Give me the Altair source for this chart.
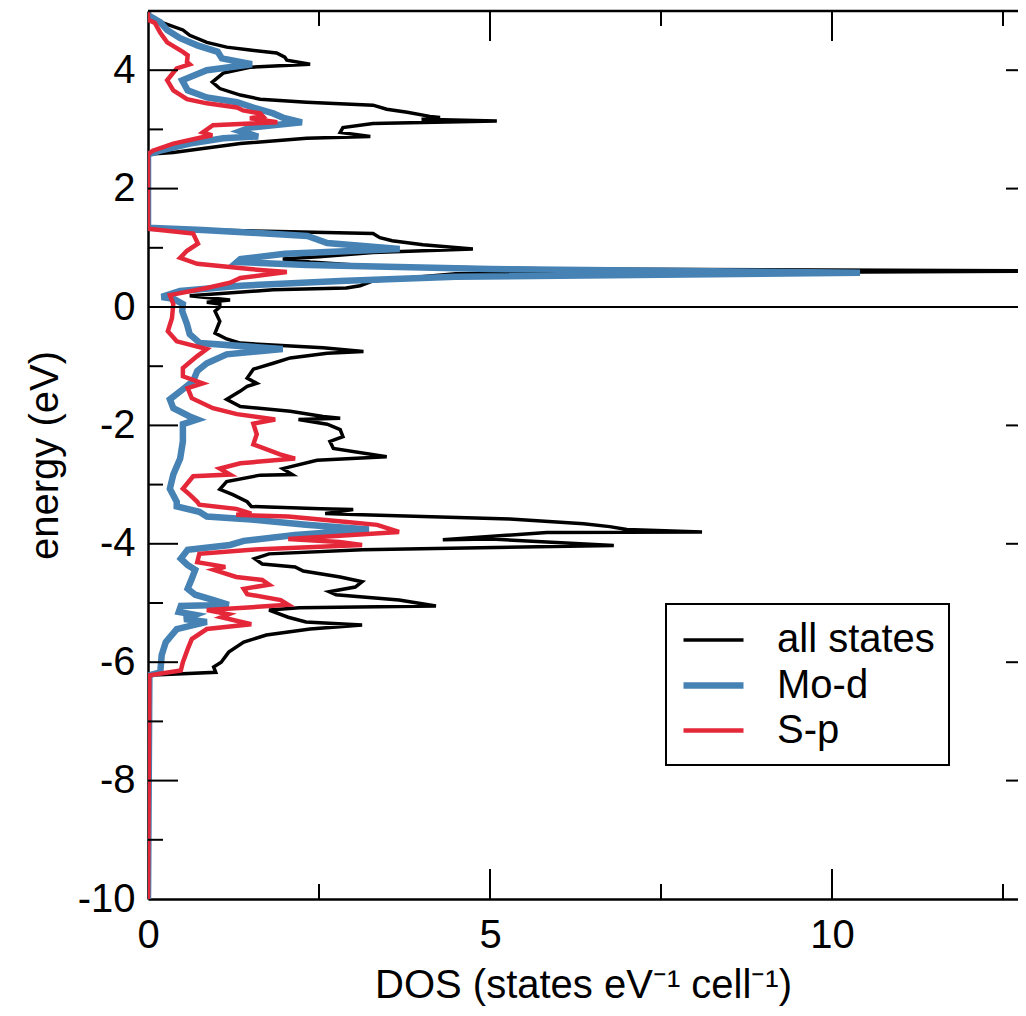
import altair as alt
import pandas as pd

series_names = ["all states", "Mo-d", "S-p"]
series_colors = ["#000000", "#4682b4", "#e4283a"]
series_widths = [3.5, 6.5, 4.5]

# ---- all states (energy in eV, DOS) ----
all_E = [5.0, 4.93, 4.80, 4.68, 4.59, 4.47, 4.39, 4.34, 4.29, 4.22, 4.17, 4.10, 4.05, 3.95, 3.80, 3.69,
         3.58, 3.51, 3.46, 3.41, 3.34, 3.29, 3.22, 3.20, 3.17, 3.14, 3.10, 3.03, 2.95, 2.88, 2.85, 2.76,
         2.61, 2.58,
         1.32, 1.27, 1.24, 1.17, 1.12, 1.05, 0.98, 0.92, 0.85, 0.81, 0.76, 0.69, 0.64, 0.61, 0.56, 0.44,
         0.36, 0.32, 0.29, 0.19, 0.12, 0.08, 0.05,
         0.0, -0.07, -0.24, -0.44, -0.54, -0.61, -0.69, -0.75, -0.78, -0.86, -0.95, -1.05, -1.20, -1.29,
         -1.34, -1.42, -1.56, -1.68, -1.76, -1.85, -1.88, -1.90, -1.98, -2.07, -2.19, -2.27, -2.39, -2.53,
         -2.59, -2.73, -2.83, -2.84, -2.95, -3.08, -3.17, -3.29,
         -3.37, -3.41, -3.42, -3.49, -3.51, -3.58, -3.66, -3.71, -3.76, -3.80, -3.81, -3.93, -3.92, -3.97,
         -4.03, -4.10, -4.17, -4.25, -4.34, -4.39, -4.46, -4.56, -4.64, -4.73, -4.81, -4.86, -4.95, -5.05,
         -5.08, -5.12, -5.24, -5.32, -5.37, -5.44, -5.54, -5.66, -5.83, -6.00, -6.08, -6.17, -6.20, -6.22,
         -10.0]
all_D = [0.0, 0.0, 0.22, 0.51, 0.61, 0.86, 1.15, 1.49, 1.88, 2.00, 2.03, 2.37, 1.49, 1.10, 0.94, 1.05,
         1.35, 1.64, 2.32, 3.29, 3.49, 3.79, 4.12, 4.27, 4.00, 5.10, 3.29, 2.85, 2.81, 3.25, 2.32, 1.35,
         0.37, 0.0,
         0.0, 2.08, 3.29, 3.39, 3.57, 4.02, 4.75, 3.29, 2.50, 1.97, 2.37, 3.29, 6.0, 13.5, 4.5, 3.29,
         3.10, 2.90, 1.83, 0.61, 1.20, 0.86, 1.05,
         1.05, 0.98, 1.05, 0.98, 1.15, 1.35, 2.56, 3.15, 2.62, 2.08, 1.83, 1.54, 1.45, 1.59,
         1.45, 1.35, 1.15, 1.35, 2.08, 2.56, 2.81, 2.20, 2.62, 2.81, 2.85, 2.66, 2.71, 3.49,
         2.47, 1.97, 2.11, 1.64, 1.15, 1.05, 1.24, 1.45,
         1.51, 2.53, 3.00, 2.59, 3.13, 5.29, 6.37, 6.75, 7.00, 8.10, 5.83, 4.31, 5.02, 5.83,
         6.81, 3.13, 1.77, 1.56, 1.67, 2.15, 2.27, 2.81, 3.13, 3.03, 2.65, 2.75, 3.67, 4.21,
         2.21, 1.77, 2.05, 2.31, 3.13, 2.37, 1.73, 1.40, 1.18, 1.07, 0.96, 0.99, 0.42, 0.0,
         0.0]

# ---- Mo-d ----
mod_E = [5.0, 4.93, 4.81, 4.68, 4.54, 4.42, 4.31, 4.20, 4.10, 4.00, 3.83, 3.66, 3.54, 3.46, 3.37, 3.27,
         3.20, 3.12, 3.03, 2.97, 2.88, 2.85, 2.76, 2.64, 2.58,
         1.34, 1.30, 1.25, 1.20, 1.08, 0.98, 0.90, 0.81, 0.76, 0.71, 0.64, 0.58, 0.51, 0.44, 0.36, 0.27,
         0.17, 0.14, 0.05, -0.07,
         -0.29, -0.46, -0.61, -0.71, -0.80, -0.95, -1.08, -1.25, -1.39, -1.56, -1.71, -1.85, -1.90, -1.98,
         -2.27, -2.56, -2.83, -3.07, -3.29,
         -3.37, -3.46, -3.54, -3.59, -3.68, -3.76, -3.85, -3.95, -4.02, -4.10, -4.25, -4.36, -4.44, -4.59,
         -4.76, -4.86, -4.95, -5.03, -5.05, -5.15, -5.20, -5.27, -5.32, -5.44, -5.66, -5.88, -6.17, -6.22,
         -10.0]
mod_D = [0.0, 0.0, 0.18, 0.28, 0.47, 0.72, 1.02, 1.08, 1.52, 0.86, 0.50, 0.58, 0.86, 1.30, 1.54, 1.83,
         1.97, 2.25, 1.49, 1.35, 1.61, 1.10, 0.61, 0.18, 0.0,
         0.0, 0.8, 1.6, 2.33, 2.62, 3.68, 2.00, 1.35, 1.30, 2.33, 5.0, 10.41, 4.5, 2.81, 1.35, 0.47,
         0.20, 0.37, 0.51, 0.50,
         0.57, 0.61, 0.76, 1.97, 1.15, 0.86, 0.72, 0.66, 0.51, 0.32, 0.37, 0.61, 0.72, 0.51,
         0.51, 0.47, 0.37, 0.32, 0.42,
         0.42, 0.75, 0.86, 1.51, 2.31, 3.23, 2.15, 1.40, 1.20, 0.58, 0.48, 0.58, 0.69, 0.64,
         0.58, 0.69, 0.96, 1.18, 0.48, 0.45, 0.69, 0.53, 0.86, 0.42, 0.26, 0.20, 0.18, 0.02,
         0.0]

# ---- S-p ----
sp_E = [5.0, 4.85, 4.80, 4.63, 4.47, 4.31, 4.25, 4.14, 4.10, 4.03, 3.83, 3.66, 3.51, 3.44, 3.37, 3.32,
        3.27, 3.22, 3.19, 3.12, 3.07, 2.95, 2.90, 2.86, 2.76, 2.64, 2.58,
        1.32, 1.24, 1.07, 0.95, 0.83, 0.73, 0.64, 0.59, 0.49, 0.41, 0.32, 0.20, 0.05, -0.19,
        -0.41, -0.58, -0.71, -0.83, -1.03, -1.17, -1.29, -1.37, -1.54, -1.71, -1.81, -1.90, -1.97, -2.15,
        -2.32, -2.49, -2.56, -2.64, -2.73, -2.83, -2.86, -3.07, -3.17, -3.29,
        -3.34, -3.41, -3.49, -3.51, -3.54, -3.63, -3.68, -3.80, -3.92, -3.97, -4.02, -4.10, -4.17, -4.31,
        -4.39, -4.44, -4.56, -4.61, -4.69, -4.76, -4.85, -4.95, -5.03, -5.12, -5.19, -5.24, -5.36, -5.44,
        -5.61, -5.78, -6.00, -6.14, -6.22, -10.0]
sp_D = [0.0, 0.0, 0.10, 0.18, 0.28, 0.51, 0.58, 0.57, 0.61, 0.42, 0.28, 0.37, 0.57, 0.86, 1.30, 1.39,
        1.64, 1.68, 1.49, 1.89, 0.95, 0.80, 0.94, 0.76, 0.37, 0.07, 0.0,
        0.0, 0.66, 0.73, 0.57, 0.47, 0.72, 1.49, 2.03, 1.35, 1.20, 0.86, 0.32, 0.37, 0.35,
        0.29, 0.42, 0.86, 0.72, 0.51, 0.51, 0.80, 0.58, 0.64, 0.95, 1.30, 1.86, 1.54, 1.59,
        1.54, 1.93, 2.15, 1.35, 1.05, 1.20, 0.66, 0.51, 0.61, 0.72,
        0.75, 1.29, 1.51, 1.29, 2.05, 2.91, 3.35, 3.67, 2.05, 2.80, 3.13, 1.51, 0.75, 0.72,
        1.13, 0.96, 1.29, 1.67, 1.77, 1.40, 1.45, 1.94, 2.05, 0.86, 1.18, 1.07, 1.51, 0.86,
        0.64, 0.58, 0.51, 0.48, 0.02, 0.0]

# tick values
x_labels = [0, 5, 10]
x_major_ticks = [5, 10]
x_minor_ticks = [2.5, 7.5, 12.5]
y_labels = [-10, -8, -6, -4, -2, 0, 2, 4]
y_major_ticks = [-8, -6, -4, -2, 2, 4]
y_minor_ticks = [-9, -7, -5, -3, -1, 1, 3]
zero_line = [0]
top_edge = [5]

FONT = "Liberation Sans"
W, H = 870, 888          # plot area; 68.4 px per DOS unit
X_MAX = 870 / 68.4

rows = []
for name, E, D in [("all states", all_E, all_D), ("Mo-d", mod_E, mod_D), ("S-p", sp_E, sp_D)]:
    for i, (e, d) in enumerate(zip(E, D)):
        rows.append({"series": name, "energy": e, "dos": d, "idx": i})
df = pd.DataFrame(rows)

xscale = alt.Scale(domain=[0, X_MAX], nice=False, zero=False)
yscale = alt.Scale(domain=[-10, 5], nice=False, zero=False)

legend = alt.Legend(
    orient="none", legendX=518, legendY=593, title=None,
    symbolType="M-1,0H2", symbolSize=1600,
    labelFontSize=40, labelFont=FONT, labelColor="black", labelLimit=0,
    labelOffset=50, rowPadding=2, padding=14,
    strokeColor="black", fillColor="white",
)

x_axis = alt.Axis(
    values=x_labels, labelExpr="'' + datum.value", labelFontSize=40, labelFont=FONT,
    labelColor="black", ticks=False, tickSize=0, labelPadding=16, grid=False,
    domainColor="black", domainWidth=2.5, labelFlush=False,
    title="DOS (states eV\u207b\u00b9 cell\u207b\u00b9)", titleFont=FONT, titleFontSize=40,
    titleFontWeight="normal", titleColor="black", titlePadding=10,
)
y_axis = alt.Axis(
    values=y_labels, labelExpr="'' + datum.value", labelFontSize=40, labelFont=FONT,
    labelColor="black", ticks=False, tickSize=0, labelPadding=13, grid=False,
    domainColor="black", domainWidth=2.5, labelFlush=False,
    title="energy (eV)", titleFont=FONT, titleFontSize=40,
    titleFontWeight="normal", titleColor="black", titlePadding=12,
)

def series_layer(name):
    return alt.Chart(df).transform_filter(alt.datum.series == name).mark_line(clip=True).encode(
        x=alt.X("dos:Q", scale=xscale, axis=x_axis),
        y=alt.Y("energy:Q", scale=yscale, axis=y_axis),
        color=alt.Color("series:N", scale=alt.Scale(domain=series_names, range=series_colors), legend=legend),
        strokeWidth=alt.StrokeWidth("series:N", scale=alt.Scale(type="ordinal", domain=series_names, range=series_widths), legend=legend),
        order=alt.Order("idx:Q"),
    )

def yrule(vals, x0, x1, sw=2):
    return alt.Chart(pd.DataFrame({"energy": vals})).mark_rule(color="black", strokeWidth=sw).encode(
        y=alt.Y("energy:Q", scale=yscale, axis=y_axis), x=alt.value(x0), x2=alt.value(x1))

def xrule(vals, y0, y1, sw=2):
    return alt.Chart(pd.DataFrame({"dos": vals})).mark_rule(color="black", strokeWidth=sw).encode(
        x=alt.X("dos:Q", scale=xscale, axis=x_axis), y=alt.value(y0), y2=alt.value(y1))

zero = alt.Chart(pd.DataFrame({"energy": zero_line})).mark_rule(color="black", strokeWidth=2).encode(
    y=alt.Y("energy:Q", scale=yscale, axis=y_axis))
top = alt.Chart(pd.DataFrame({"energy": top_edge})).mark_rule(color="black", strokeWidth=2.5).encode(
    y=alt.Y("energy:Q", scale=yscale, axis=y_axis))

chart = alt.layer(
    series_layer("all states"),
    series_layer("Mo-d"),
    series_layer("S-p"),
    zero, top,
    yrule(y_major_ticks, 0, 30), yrule(y_minor_ticks, 0, 15),
    yrule(y_major_ticks, W - 12, W),
    xrule(x_major_ticks, H, H - 30), xrule(x_minor_ticks, H, H - 15),
    xrule(x_major_ticks, 0, 30), xrule(x_minor_ticks, 0, 15),
).properties(
    width=W, height=H,
    autosize=alt.AutoSizeParams(type="none"),
    padding={"left": 140, "top": 3, "right": 0, "bottom": 108},
).configure_view(strokeWidth=0).configure_legend(strokeWidth=2)

chart.save("out.html", embed_options={"renderer": "svg", "actions": False})
